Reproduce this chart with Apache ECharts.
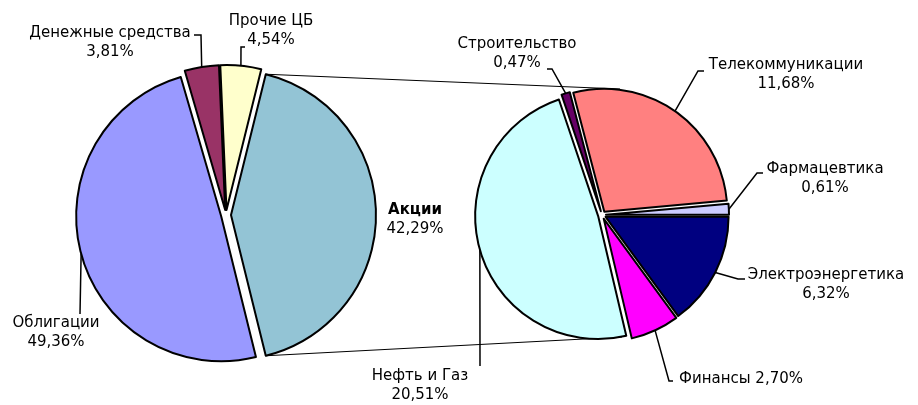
<!DOCTYPE html>
<html>
<head>
<meta charset="utf-8">
<script src="https://cdn.jsdelivr.net/npm/echarts@6/dist/echarts.min.js"></script>
<style>
html, body { margin: 0; padding: 0; background: #fff; }
#chart { width: 918px; height: 405px; }
</style>
</head>
<body>
<div id="chart"></div>
<script>
// структура портфеля, % от общего объёма
var mainNames = ['Акции', 'Облигации', 'Денежные средства', 'Прочие ЦБ'];
var mainValues = [42.29, 49.36, 3.81, 4.54];
var mainColors = ['#93c4d5', '#9999ff', '#993366', '#ffffcc'];

// расшифровка акций по отраслям, % от общего объёма
var stockNames = ['Электроэнергетика', 'Финансы', 'Нефть и Газ', 'Строительство', 'Телекоммуникации', 'Фармацевтика'];
var stockValues = [6.32, 2.70, 20.51, 0.47, 11.68, 0.61];
var stockColors = ['#000080', '#ff00ff', '#ccffff', '#660066', '#ff8080', '#ccccff'];

// геометрия
var c1 = [226, 215], r1 = 145, gap1 = 5;
var c2 = [602, 215], r2 = 123, gap2 = 4;
var font = 'DejaVu Sans, Verdana, sans-serif';

// положение подписей: центр текста, излом и конец выноски
var labelPos = {
	'Акции': { at: [415, 220] },
	'Облигации': { at: [56, 333], end: [80, 314] },
	'Денежные средства': { at: [110, 43], bend: [201, 35], end: [194, 35] },
	'Прочие ЦБ': { at: [271, 31], bend: [241, 47], end: [245, 47] },
	'Электроэнергетика': { at: [826, 285], bend: [738, 279], end: [745, 279] },
	'Финансы': { at: [741, 379], bend: [669, 381], end: [673, 381] },
	'Нефть и Газ': { at: [420, 386], end: [480, 366] },
	'Строительство': { at: [517, 54], bend: [552, 69], end: [547, 69] },
	'Телекоммуникации': { at: [786, 75], bend: [698, 71], end: [704, 71] },
	'Фармацевтика': { at: [825, 179], bend: [757, 173], end: [763, 173] }
};

function pct(v) {
	return v.toFixed(2).replace('.', ',') + '%';
}

function sum(arr) {
	var s = 0;
	arr.forEach(function (v) { s += v; });
	return s;
}

var itemBase = { borderColor: '#000', borderWidth: 2 };

// каждый сектор — отдельная серия, сдвинутая от центра (эффект "выдвинутых" секторов)
function slices(names, values, colors, center, radius, startAngle, gap) {
	var total = sum(values);
	var angle = startAngle;
	return names.map(function (name, i) {
		var span = values[i] / total * 360;
		var mid = (angle - span / 2) * Math.PI / 180;
		var cfg = labelPos[name];
		var s = {
			type: 'pie',
			name: name,
			center: [center[0] + gap * Math.cos(mid), center[1] - gap * Math.sin(mid)],
			radius: radius,
			startAngle: angle,
			clockwise: true,
			avoidLabelOverlap: false,
			emphasis: { disabled: true },
			itemStyle: itemBase,
			label: {
				show: true,
				position: 'outside',
				color: '#000',
				fontFamily: font,
				fontSize: 15,
				lineHeight: 19,
				formatter: function (p) {
					if (p.name === 'Акции') return '{b|' + p.name + '}\n' + pct(p.value);
					if (p.name === 'Финансы') return p.name + ' ' + pct(p.value);
					return p.name + '\n' + pct(p.value);
				},
				rich: { b: { fontWeight: 'bold', fontFamily: font, fontSize: 15, lineHeight: 19, color: '#000' } }
			},
			labelLine: { show: !!cfg.end, lineStyle: { color: '#000', width: 1.5 } },
			labelLayout: function (p) {
				if (p.dataIndex !== 0) return;
				var out = { x: cfg.at[0], y: cfg.at[1], align: 'center', verticalAlign: 'middle', hideOverlap: false };
				if (cfg.end && p.labelLinePoints) {
					var a = p.labelLinePoints[0];
					var bend = cfg.bend || [(a[0] + cfg.end[0]) / 2, (a[1] + cfg.end[1]) / 2];
					out.labelLinePoints = [a, bend, cfg.end];
				}
				return out;
			},
			data: [
				{ name: name, value: values[i], itemStyle: { color: colors[i] } },
				{ name: '', value: total - values[i], itemStyle: { color: 'transparent', borderWidth: 0 }, label: { show: false }, labelLine: { show: false } }
			]
		};
		angle -= span;
		return s;
	});
}

var half = mainValues[0] / sum(mainValues) * Math.PI;
var p1 = [c1[0] + r1 * Math.cos(half) + gap1, c1[1] - r1 * Math.sin(half)];
var p2 = [c1[0] + r1 * Math.cos(half) + gap1, c1[1] + r1 * Math.sin(half)];

var myChart = echarts.init(document.getElementById('chart'));
myChart.setOption({
	animation: false,
	backgroundColor: '#fff',
	graphic: [
		{ type: 'line', z: 0, shape: { x1: p1[0], y1: p1[1], x2: c2[0] + 18, y2: c2[1] - r2 - 3 }, style: { stroke: '#000', lineWidth: 1 } },
		{ type: 'line', z: 0, shape: { x1: p2[0], y1: p2[1], x2: c2[0] + 20, y2: c2[1] + r2 - 1 }, style: { stroke: '#000', lineWidth: 1 } }
	],
	series: slices(mainNames, mainValues, mainColors, c1, r1, half * 180 / Math.PI, gap1)
		.concat(slices(stockNames, stockValues, stockColors, c2, r2, 0, gap2))
});
</script>
</body>
</html>
